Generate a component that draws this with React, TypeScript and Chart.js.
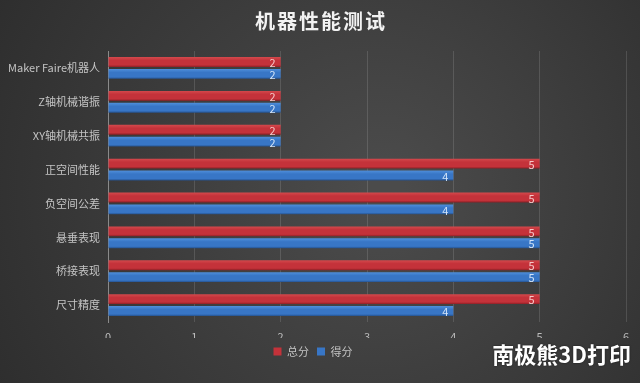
import React, { useEffect, useRef } from "react";
import { Chart, registerables } from "chart.js";

Chart.register(...registerables);

const categories = ["Maker Faire机器人", "Z轴机械谐振", "XY轴机械共振", "正空间性能", "负空间公差", "悬垂表现", "桥接表现", "尺寸精度"];
const totalScores = [2, 2, 2, 5, 5, 5, 5, 5];
const gotScores = [2, 2, 2, 4, 4, 5, 5, 4];
const xTicks = [0, 1, 2, 3, 4, 5, 6];
const seriesNames = ["总分", "得分"];
const seriesColors = ["#c4323a", "#3876c6"];
const titleText = "机器性能测试";
const watermark = "南极熊3D打印";

const FONT = "'Noto Sans CJK SC', 'Noto Sans', sans-serif";

const bgPlugin = {
  id: "bg",
  beforeDraw(chart: any) {
    const { ctx, width, height } = chart;
    ctx.save();
    const g = ctx.createRadialGradient(width * 0.6, height * 0.5, 20, width * 0.55, height * 0.5, width * 0.7);
    g.addColorStop(0, "#4b4b4b");
    g.addColorStop(1, "#2b2b2b");
    ctx.fillStyle = g;
    ctx.fillRect(0, 0, width, height);
    ctx.restore();
  },
};

const labelPlugin = {
  id: "vals",
  afterDatasetsDraw(chart: any) {
    const { ctx } = chart;
    ctx.save();
    ctx.font = `11px ${FONT}`;
    ctx.textAlign = "right";
    ctx.textBaseline = "middle";
    chart.data.datasets.forEach((ds: any, di: number) => {
      const meta = chart.getDatasetMeta(di);
      meta.data.forEach((bar: any, i: number) => {
        ctx.fillStyle = di === 0 ? "#f6c9c9" : "#d3e4f8";
        ctx.fillText(String(ds.data[i]), bar.x - 5, bar.y + 1);
      });
    });
    ctx.restore();
  },
  afterDraw(chart: any) {
    const { ctx } = chart;
    ctx.save();
    ctx.font = `bold 20px ${FONT}`;
    ctx.textAlign = "center";
    ctx.textBaseline = "middle";
    ctx.fillStyle = "#f2f2f2";
    (ctx as any).letterSpacing = "2px";
    ctx.fillText(titleText, 321, 21);
    (ctx as any).letterSpacing = "0px";
    ctx.font = `bold 22px ${FONT}`;
    ctx.textAlign = "right";
    ctx.fillStyle = "#ffffff";
    ctx.shadowColor = "rgba(0,0,0,0.6)";
    ctx.shadowBlur = 2;
    ctx.fillText(watermark, 631, 355);
    ctx.restore();
  },
};

function barFill(top: string, mid: string, bottom: string, offset: number, fallback: string) {
  return (context: any) => {
    const chart = context.chart;
    const ys = chart.scales && chart.scales.y;
    if (!ys || context.dataIndex === undefined || !chart.chartArea) return fallback;
    const c = ys.getPixelForValue(context.dataIndex) + offset;
    const g = chart.ctx.createLinearGradient(0, c - 5, 0, c + 5);
    g.addColorStop(0, top);
    g.addColorStop(0.35, mid);
    g.addColorStop(0.8, mid);
    g.addColorStop(1, bottom);
    return g;
  };
}

export default function App() {
  const ref = useRef<HTMLCanvasElement>(null);
  useEffect(() => {
    document.body.style.margin = "0";
    const chart = new Chart(ref.current!, {
      type: "bar",
      data: {
        labels: categories,
        datasets: [
          { label: seriesNames[0], data: totalScores, backgroundColor: barFill("#d44a4d", seriesColors[0], "#8c1f25", -6, seriesColors[0]), borderWidth: 0 },
          { label: seriesNames[1], data: gotScores, backgroundColor: barFill("#4f8fdb", seriesColors[1], "#24508c", 6, seriesColors[1]), borderWidth: 0 },
        ],
      },
      options: {
        indexAxis: "y",
        animation: false,
        responsive: false,
        maintainAspectRatio: false,
        layout: { padding: { left: 0, right: 14, top: 51, bottom: 16 } },
        datasets: { bar: { categoryPercentage: 0.7, barPercentage: 0.84 } },
        scales: {
          x: {
            min: 0,
            max: 6,
            afterBuildTicks(scale: any) {
              scale.ticks = xTicks.map((v) => ({ value: v }));
            },
            afterFit(scale: any) {
              scale.height = 16;
            },
            grid: { color: "rgba(255,255,255,0.13)", drawTicks: false },
            border: { display: false },
            ticks: { color: "#bdbdbd", font: { size: 11, family: FONT }, padding: 8 },
          },
          y: {
            afterFit(scale: any) {
              scale.width = 108;
            },
            grid: { display: false, drawTicks: false },
            border: { display: true, color: "#8a8a8a", width: 1 },
            ticks: { color: "#c4c4c4", font: { size: 11, family: FONT }, padding: 8 },
          },
        },
        plugins: {
          title: { display: false },
          legend: {
            position: "bottom",
            labels: {
              color: "#c4c4c4",
              font: { size: 11, family: FONT },
              boxWidth: 8,
              boxHeight: 8,
              padding: 8,
              generateLabels: () =>
                seriesNames.map((n, i) => ({
                  text: n,
                  fillStyle: seriesColors[i],
                  strokeStyle: seriesColors[i],
                  lineWidth: 0,
                  fontColor: "#c4c4c4",
                  datasetIndex: i,
                  hidden: false,
                })),
            },
          },
          tooltip: { enabled: false },
        },
      },
      plugins: [bgPlugin, labelPlugin],
    });
    return () => chart.destroy();
  }, []);
  return (
    <div style={{ width: 640, height: 383 }}>
      <canvas ref={ref} width={640} height={383} style={{ display: "block" }} />
    </div>
  );
}
